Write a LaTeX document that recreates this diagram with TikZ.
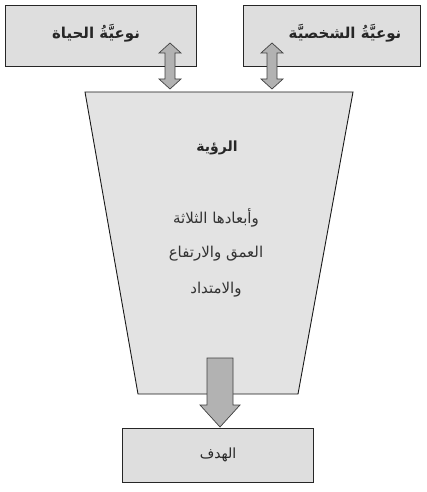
\documentclass[tikz,border=0pt]{standalone}
\usepackage{fontspec}
\TeXXeTstate=1
\newfontfamily\arabicfont[Script=Arabic]{DejaVu Sans}
\tikzset{
  box/.style={draw=black!85, line width=0.9pt, fill=black!13, inner sep=0pt},
  funnel/.style={draw=black!90, line width=0.9pt, fill=black!11},
  blockarrow/.style={draw=black!75, line width=0.7pt, fill=black!30, line join=miter},
  lbl/.style={font=\arabicfont\bfseries\fontsize{15}{17}\selectfont, text=black!85},
  txt/.style={font=\arabicfont\fontsize{15}{17}\selectfont, text=black!80}
}
\begin{document}
\begin{tikzpicture}[x=1pt,y=-1pt]
\useasboundingbox (0,0) rectangle (426,492);
% top boxes
\node[box, minimum width=191pt, minimum height=61pt] (life) at (100.5,35.5) {};
\node[box, minimum width=177pt, minimum height=61pt] (pers) at (331.5,35.5) {};
\node[lbl] (lifet) at (96,33) {\beginR نوعيَّةُ الحياة\endR};
\node[lbl] (perst) at (345,33) {\beginR نوعيَّةُ الشخصيَّة\endR};
% funnel
\coordinate (tl) at (85,92);
\coordinate (tr) at (353,92);
\coordinate (br) at (298,394);
\coordinate (bl) at (138,394);
\draw[funnel] (tl) -- (tr) -- (br) -- (bl) -- cycle;
\node[lbl, font=\arabicfont\bfseries\fontsize{14}{16}\selectfont] (vision) at (217,148) {\beginR الرؤية\endR};
\node[txt] (d1) at (216,218) {\beginR وأبعادها الثلاثة\endR};
\node[txt] (d2) at (216,254) {\beginR العمق والارتفاع\endR};
\node[txt] (d3) at (216,290) {\beginR والامتداد\endR};
% double arrows
\foreach \cx/\nm in {170/la, 272/ra}{
  \draw[blockarrow] (\cx,43) -- (\cx+11,53) -- (\cx+5,53) -- (\cx+5,79) -- (\cx+11,79)
    -- (\cx,89) -- (\cx-11,79) -- (\cx-5,79) -- (\cx-5,53) -- (\cx-11,53) -- cycle;
}
% bottom box
\node[box, minimum width=191pt, minimum height=54pt] (goal) at (218,455) {};
\node[lbl, font=\arabicfont\fontsize{14}{16}\selectfont] (goalt) at (218,455) {\beginR الهدف\endR};
% down arrow
\draw[blockarrow] (207,358) -- (233,358) -- (233,405) -- (240,405) -- (220,427)
  -- (200,405) -- (207,405) -- cycle;
\end{tikzpicture}
\end{document}
